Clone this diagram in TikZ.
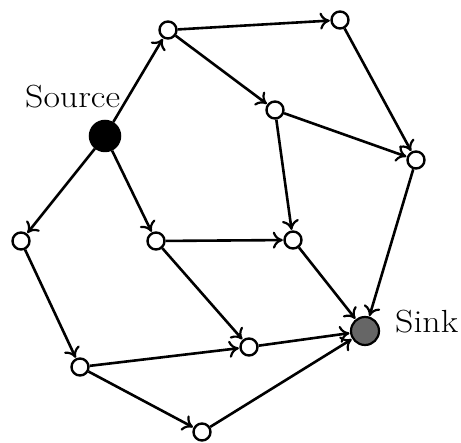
\documentclass[tikz,border=0pt]{standalone}
\usepackage{graphicx}
\usetikzlibrary{arrows.meta}
\begin{document}
\begin{tikzpicture}[x=1pt,y=-1pt,
  vtx/.style={circle,draw=black,line width=2.4pt,fill=white,minimum size=17pt,inner sep=0pt},
  src/.style={circle,draw=black,line width=1.5pt,fill=black,minimum size=31pt,inner sep=0pt},
  snk/.style={circle,draw=black,line width=2.2pt,fill=black!60,minimum size=28pt,inner sep=0pt},
  lbl/.style={font=\fontsize{32}{36}\selectfont,inner sep=0pt},
  edge/.style={line width=2.6pt,-{To[length=10pt,width=17pt,line width=2.2pt]},shorten >=0.5pt}]
\useasboundingbox (0,0) rectangle (461,443);
\node[src] (s) at (105,136) {};
\node[vtx] (a) at (168,30) {};
\node[vtx] (b) at (340,20) {};
\node[vtx] (c) at (275,110) {};
\node[vtx] (d) at (416,160) {};
\node[vtx] (e) at (21,241) {};
\node[vtx] (f) at (156,241) {};
\node[vtx] (g) at (293,240) {};
\node[vtx] (h) at (249,347) {};
\node[vtx] (i) at (80,367) {};
\node[vtx] (j) at (202,432) {};
\node[snk] (t) at (365,331) {};
\node[lbl,anchor=base west] (sl) at (25,108) {\scalebox{1.12}[1]{Source}};
\node[lbl,anchor=base west] (tl) at (395,333) {\scalebox{1.12}[1]{Sink}};
\draw[edge] (s) -- (a);
\draw[edge] (a) -- (b);
\draw[edge] (a) -- (c);
\draw[edge] (b) -- (d);
\draw[edge] (c) -- (d);
\draw[edge] (c) -- (g);
\draw[edge] (s) -- (e);
\draw[edge] (s) -- (f);
\draw[edge] (f) -- (g);
\draw[edge] (f) -- (h);
\draw[edge] (g) -- (t);
\draw[edge] (d) -- (t);
\draw[edge] (e) -- (i);
\draw[edge] (i) -- (h);
\draw[edge] (h) -- (t);
\draw[edge] (i) -- (j);
\draw[edge] (j) -- (t);
\end{tikzpicture}
\end{document}
